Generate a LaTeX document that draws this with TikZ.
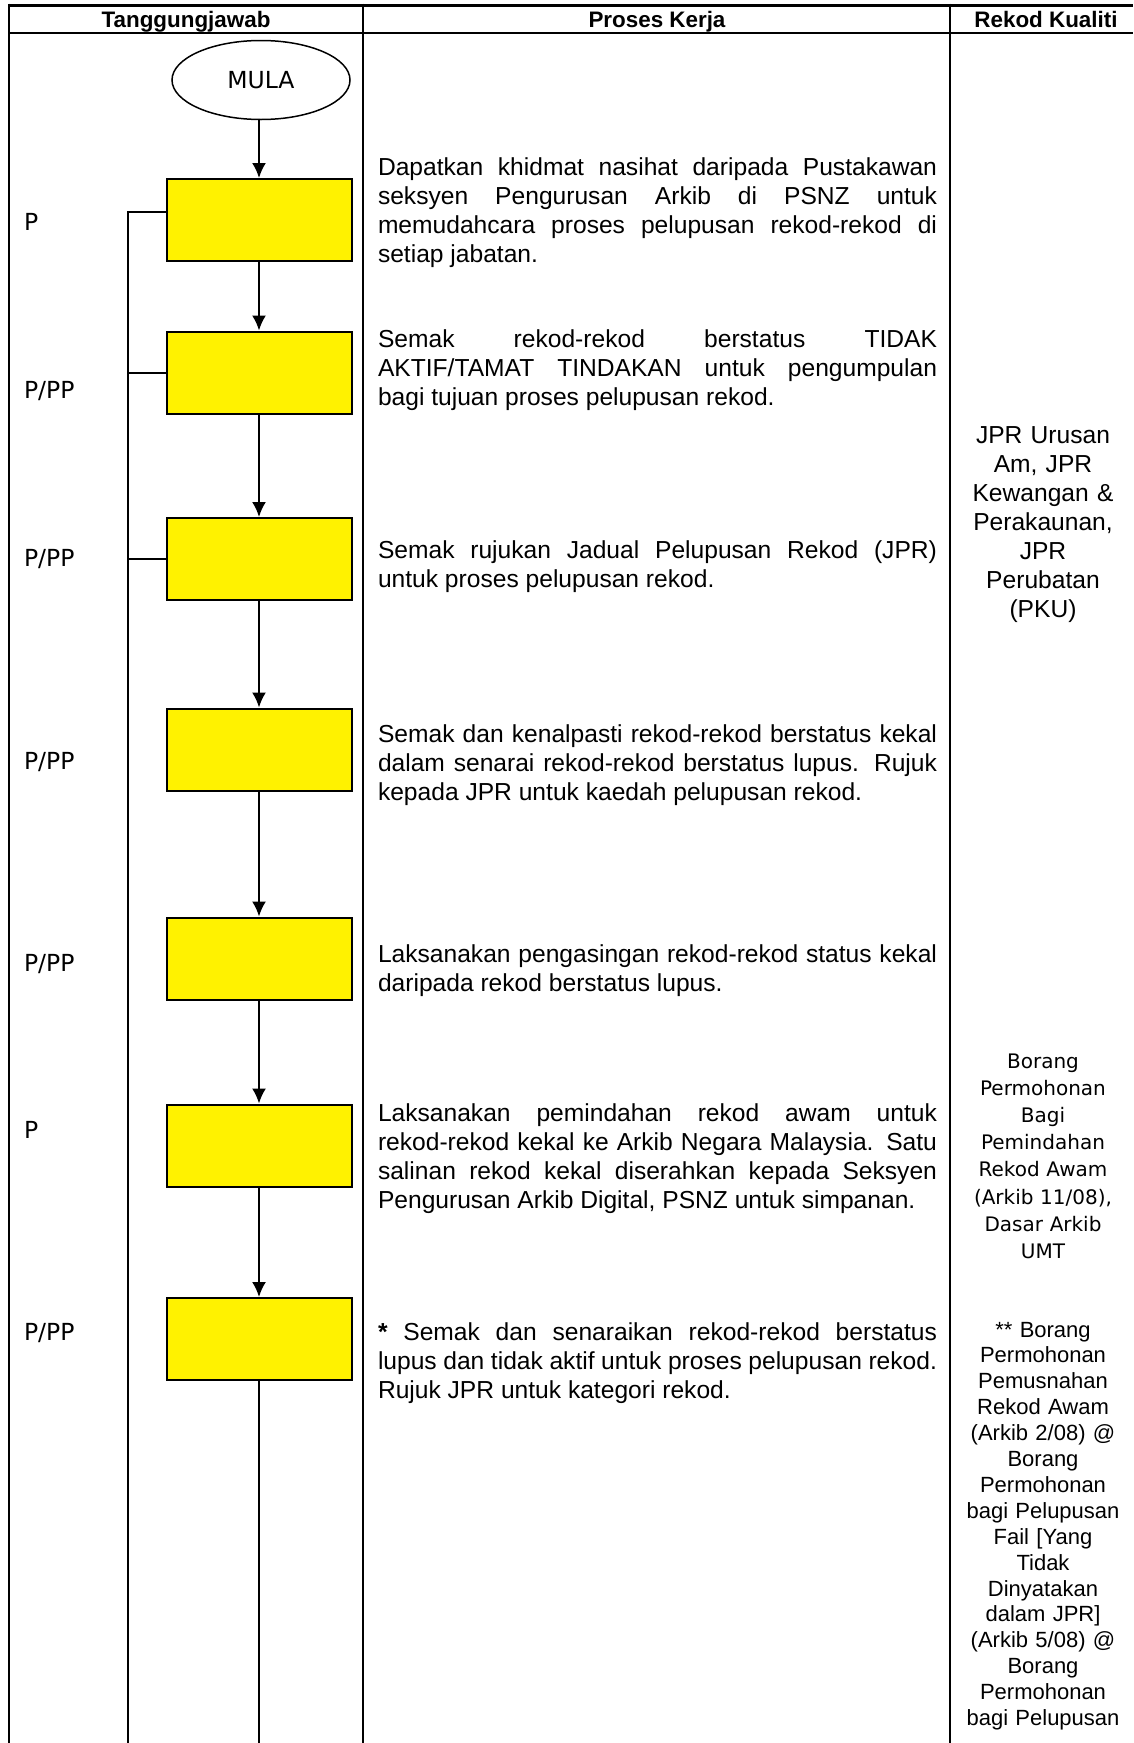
\documentclass[tikz,border=0pt]{standalone}
\usepackage{fontspec}
\setmainfont{Liberation Sans}
\newfontfamily\tahoma{DejaVu Sans}
\usetikzlibrary{arrows.meta,shapes.geometric}
\tikzset{
  kotak/.style={draw, line width=2pt, fill=yellow, minimum width=185pt, minimum height=82pt, inner sep=0pt},
  proses/.style={anchor=base west, inner sep=0pt, text width=559pt, align=justify, font=\fontsize{24.6}{29}\selectfont},
  tugas/.style={anchor=base west, inner sep=0pt, font=\tahoma\fontsize{23.5}{28}\selectfont},
  rekod/.style={anchor=base, inner sep=0pt, text width=180pt, align=center},
  tajuk/.style={anchor=base, inner sep=0pt, font=\fontsize{22.4}{26}\selectfont\bfseries},
}
\begin{document}
\begin{tikzpicture}[>={Latex[length=15pt,width=14pt]}, x=1pt, y=-1pt, line width=2pt]
    \useasboundingbox (0,0) rectangle (1133,1743);
    % jadual
    \draw[line width=3pt](9,5)--(1133,5);
    \draw(9,33)--(1133,33);
    \draw(9,3.5)--(9,1743);
    \draw(363,3.5)--(363,1743);
    \draw(950,3.5)--(950,1743);
    \node[tajuk] (h1) at (186,27) {Tanggungjawab};
    \node[tajuk] (h2) at (657,27) {Proses Kerja};
    \node[tajuk] (h3) at (1046,27) {Rekod Kualiti};
    % carta alir
    \node[ellipse, draw, line width=1.5pt, minimum width=178pt, minimum height=79pt, font=\tahoma\fontsize{23.5}{28}\selectfont] (mula) at (261,80) {MULA};
    \node[kotak] (b1) at (259,220) {};
    \node[kotak] (b2) at (259,372.5) {};
    \node[kotak] (b3) at (259,559) {};
    \node[kotak] (b4) at (259,749.5) {};
    \node[kotak] (b5) at (259,958.5) {};
    \node[kotak] (b6) at (259,1145.5) {};
    \node[kotak] (b7) at (259,1339) {};
    \draw[->](b1.north |- mula.south)--(b1);
    \draw[->](b1)--(b2);
    \draw[->](b2)--(b3);
    \draw[->](b3)--(b4);
    \draw[->](b4)--(b5);
    \draw[->](b5)--(b6);
    \draw[->](b6)--(b7);
    \coordinate (akhir) at (259,1743);
    \draw(b7)--(akhir);
    \coordinate (bas) at (128,212);
    \coordinate (bas akhir) at (128,1743);
    \draw(bas akhir)--(bas)--(bas -| b1.west);
    \draw(b2.west)--(b2.west -| bas);
    \draw(b3.west)--(b3.west -| bas);
    % tanggungjawab
    \node[tugas] (t1) at (23,230) {P};
    \node[tugas] (t2) at (23,398) {P/PP};
    \node[tugas] (t3) at (23,566) {P/PP};
    \node[tugas] (t4) at (23,769) {P/PP};
    \node[tugas] (t5) at (23,971) {P/PP};
    \node[tugas] (t6) at (23,1138) {P};
    \node[tugas] (t7) at (23,1340) {P/PP};
    % proses kerja
    \node[proses] (p1) at (377,175) {Dapatkan khidmat nasihat daripada Pustakawan\linebreak seksyen Pengurusan Arkib di PSNZ untuk\linebreak memudahcara proses pelupusan rekod-rekod di\linebreak setiap jabatan.};
    \node[proses] (p2) at (377,347) {Semak rekod-rekod berstatus TIDAK\linebreak AKTIF/TAMAT TINDAKAN untuk pengumpulan\linebreak bagi tujuan proses pelupusan rekod.};
    \node[proses] (p3) at (377,558) {Semak rujukan Jadual Pelupusan Rekod (JPR)\linebreak untuk proses pelupusan rekod.};
    \node[proses] (p4) at (377,742) {Semak dan kenalpasti rekod-rekod berstatus kekal\linebreak dalam senarai rekod-rekod berstatus lupus. Rujuk\linebreak kepada JPR untuk kaedah pelupusan rekod.};
    \node[proses] (p5) at (377,962) {Laksanakan pengasingan rekod-rekod status kekal\linebreak daripada rekod berstatus lupus.};
    \node[proses] (p6) at (377,1121) {Laksanakan pemindahan rekod awam untuk\linebreak rekod-rekod kekal ke Arkib Negara Malaysia. Satu\linebreak salinan rekod kekal diserahkan kepada Seksyen\linebreak Pengurusan Arkib Digital, PSNZ untuk simpanan.};
    \node[proses] (p7) at (377,1340) {\textbf{*} Semak dan senaraikan rekod-rekod berstatus\linebreak lupus dan tidak aktif untuk proses pelupusan rekod.\linebreak Rujuk JPR untuk kategori rekod.};
    % rekod kualiti
    \node[rekod, font=\fontsize{24.6}{29}\selectfont] (r1) at (1043,443) {JPR Urusan\\ Am, JPR\\ Kewangan \&\\ Perakaunan,\\ JPR\\ Perubatan\\ (PKU)};
    \node[rekod, font=\tahoma\fontsize{20}{27.2}\selectfont] (r2) at (1043,1068) {Borang\\ Permohonan\\ Bagi\\ Pemindahan\\ Rekod Awam\\ (Arkib 11/08),\\ Dasar Arkib\\ UMT};
    \node[rekod, font=\fontsize{22}{25.9}\selectfont] (r3) at (1043,1337) {** Borang\\ Permohonan\\ Pemusnahan\\ Rekod Awam\\ (Arkib 2/08) @\\ Borang\\ Permohonan\\ bagi Pelupusan\\ Fail [Yang\\ Tidak\\ Dinyatakan\\ dalam JPR]\\ (Arkib 5/08) @\\ Borang\\ Permohonan\\ bagi Pelupusan};
\end{tikzpicture}
\end{document}
